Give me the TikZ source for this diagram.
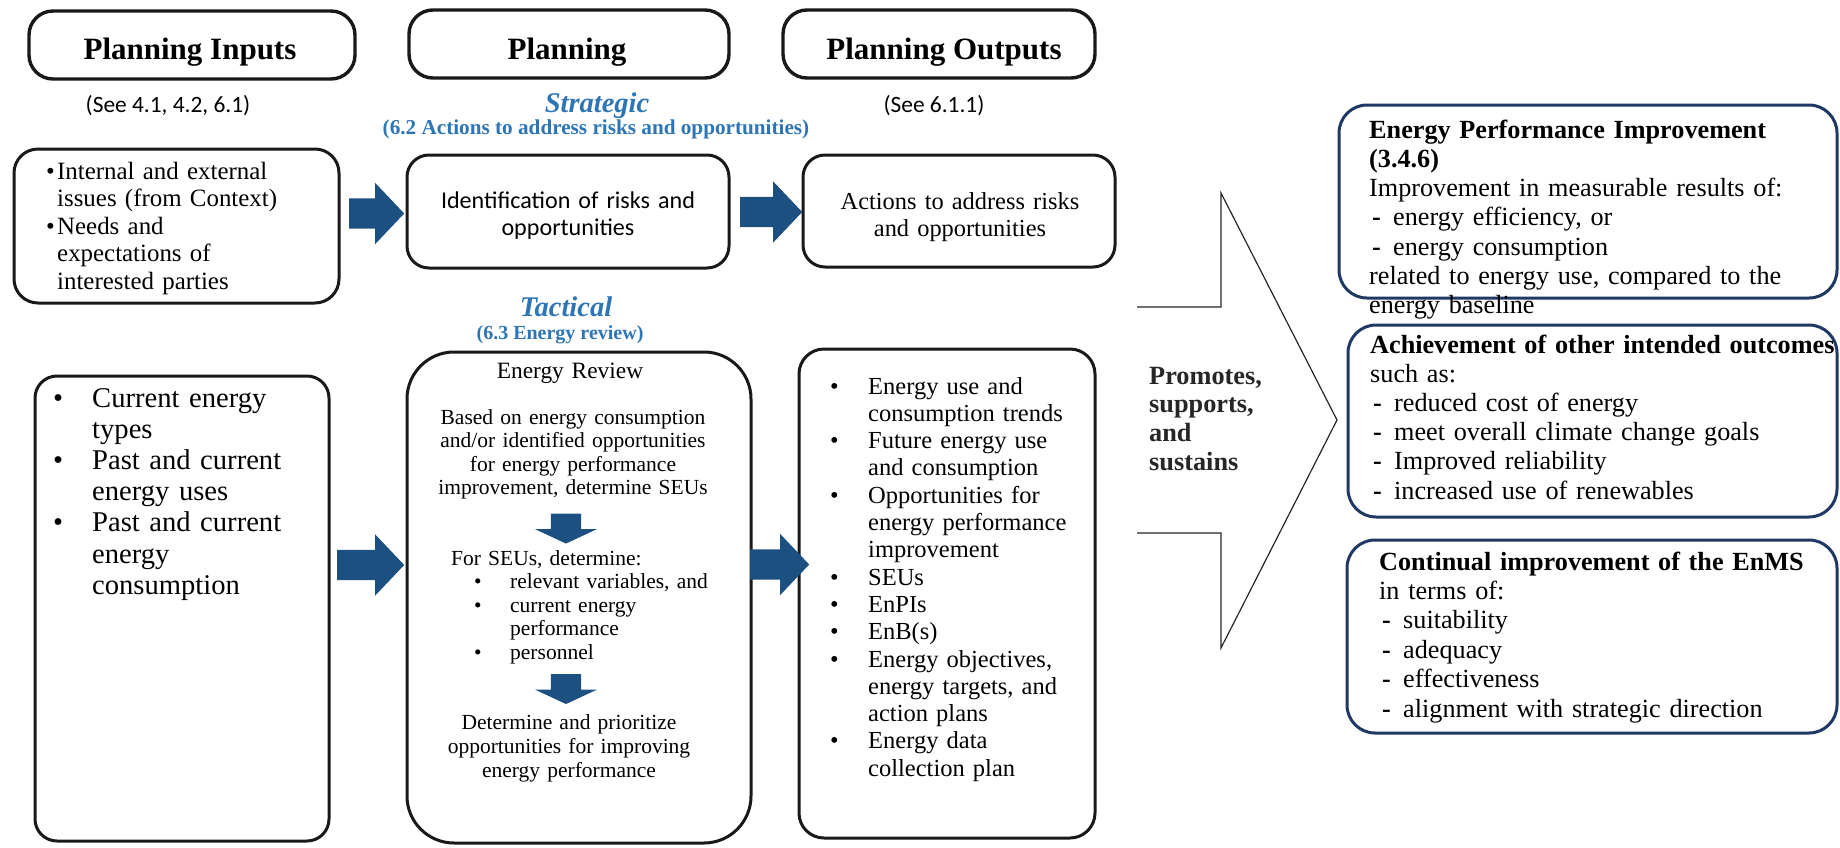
\documentclass[tikz,border=0pt]{standalone}
\usepackage{xcolor}
\usepackage{fontspec}
\setmainfont{Liberation Serif}
\newfontfamily\calfont{Carlito}
\usepackage{tikz}
\usetikzlibrary{shapes.arrows}

\definecolor{arrowblue}{RGB}{28,80,128}
\definecolor{textblue}{RGB}{46,117,182}
\definecolor{navyline}{RGB}{31,56,100}

\newcommand{\itemdot}[1]{\makebox[#1][l]{\textbullet}}
\newcommand{\itemgap}[1]{\hspace*{#1}}
\newcommand{\dashitem}{\hspace*{3pt}\makebox[21pt][l]{\textbf{-}}}

\tikzset{
  hdrbox/.style={draw=black!90, line width=3.4pt, rounded corners=24pt},
  blkbox/.style={draw=black!90, line width=3pt, rounded corners=#1},
  blkbox/.default=22pt,
  navybox/.style={draw=navyline, line width=3pt, rounded corners=28pt},
  hdrtxt/.style={inner sep=0pt, anchor=base, font={\fontsize{31}{36}\selectfont\bfseries}},
  seetxt/.style={inner sep=0pt, anchor=base, font={\calfont\fontsize{23.4}{28}\selectfont}},
  strattxt/.style={inner sep=0pt, anchor=base, text=textblue, font={\fontsize{28.5}{32}\selectfont\bfseries\itshape}},
  subtxt/.style={inner sep=0pt, anchor=base, text=textblue, font={\fontsize{#1}{24}\selectfont\bfseries}},
  listtxt/.style={inner sep=0pt, anchor=base west, align=left, text width=480pt},
  ctrtxt/.style={inner sep=0pt, anchor=base, align=center, text width=400pt},
  blockarrow/.style={single arrow, fill=arrowblue, inner xsep=0pt, inner ysep=15pt,
    single arrow head extend=15.5pt, single arrow tip angle=93},
  downarrow/.style={single arrow, fill=arrowblue, inner xsep=0pt, inner ysep=15pt,
    minimum height=30pt, single arrow head extend=16pt, single arrow tip angle=130, rotate=-90},
  chevline/.style={draw=black!85, line width=1.2pt}
}

\begin{document}
\begin{tikzpicture}[x=1pt,y=-1pt]
\useasboundingbox (0,0) rectangle (1840,847);

% column headers
\node[hdrbox, minimum width=326pt, minimum height=68pt] (hdrIn) at (192,45) {};
\node[hdrbox, minimum width=320pt, minimum height=68pt] (hdrPlan) at (569,44) {};
\node[hdrbox, minimum width=312pt, minimum height=68pt] (hdrOut) at (939,44) {};
\node[hdrtxt] (hdrInTxt) at (190,59) {Planning Inputs};
\node[hdrtxt] (hdrPlanTxt) at (567,59) {Planning};
\node[hdrtxt] (hdrOutTxt) at (944,59) {Planning Outputs};

\node[seetxt] (seeIn) at (168,112) {(See 4.1, 4.2, 6.1)};
\node[strattxt] (strat) at (597,112) {Strategic};
\node[subtxt=21.2] (stratSub) at (596,134) {(6.2 Actions to address risks and opportunities)};
\node[seetxt] (seeOut) at (934,112) {(See 6.1.1)};

% strategic row
\node[blkbox=24pt, minimum width=325pt, minimum height=154pt] (issues) at (176.5,226) {};
\node[blkbox, minimum width=322pt, minimum height=113pt] (ident) at (568,211.5) {};
\node[blkbox, minimum width=312pt, minimum height=112pt] (actions) at (959,211) {};

\node[listtxt, font={\fontsize{24.9}{27.5}\selectfont}] (issuesTxt) at (46,179)
  {\itemdot{11pt}Internal and external\\
   \itemgap{11pt}issues (from Context)\\
   \itemdot{11pt}Needs and\\
   \itemgap{11pt}expectations of\\
   \itemgap{11pt}interested parties};
\node[ctrtxt, font={\calfont\fontsize{24.1}{27}\selectfont}] (identTxt) at (568,208)
  {Identification of risks and\\opportunities};
\node[ctrtxt, font={\fontsize{24.4}{27}\selectfont}] (actionsTxt) at (960,209)
  {Actions to address risks\\and opportunities};

\node[blockarrow, minimum height=55pt] (arIdent) at (369.5,213.5) {};
\node[blockarrow, minimum height=62pt] (arActions) at (764,212) {};

% tactical row
\node[strattxt] (tact) at (566,316) {Tactical};
\node[subtxt=20] (tactSub) at (560,339) {(6.3 Energy review)};

\node[blkbox, minimum width=294pt, minimum height=465pt] (types) at (182,608.5) {};
\node[blkbox=47pt, minimum width=344pt, minimum height=491pt] (review) at (579,597.5) {};
\node[blkbox=25pt, minimum width=296pt, minimum height=489pt] (outputs) at (947,593.5) {};

\node[blockarrow, minimum height=67pt] (arReview) at (363.5,565) {};
\node[blockarrow, minimum height=59pt] (arOutputs) at (772.5,564.5) {};

\node[listtxt, font={\fontsize{28.6}{31.2}\selectfont}] (typesTxt) at (53,407)
  {\itemdot{39pt}Current energy\\
   \itemgap{39pt}types\\
   \itemdot{39pt}Past and current\\
   \itemgap{39pt}energy uses\\
   \itemdot{39pt}Past and current\\
   \itemgap{39pt}energy\\
   \itemgap{39pt}consumption};

\node[ctrtxt, font={\fontsize{23.4}{26}\selectfont}] (reviewTitle) at (570,378) {Energy Review};
\node[ctrtxt, font={\fontsize{21.5}{23.6}\selectfont}] (basedTxt) at (573,424)
  {Based on energy consumption\\
   and/or identified opportunities\\
   for energy performance\\
   improvement, determine SEUs};
\node[downarrow] (arSeu) at (566,525) {};
\node[listtxt, font={\fontsize{21.5}{23.5}\selectfont}] (seuTxt) at (451,565)
  {For SEUs, determine:\\
   \itemgap{23pt}\itemdot{36pt}relevant variables, and\\
   \itemgap{23pt}\itemdot{36pt}current energy\\
   \itemgap{59pt}performance\\
   \itemgap{23pt}\itemdot{36pt}personnel};
\node[downarrow] (arPrio) at (566,685.5) {};
\node[ctrtxt, font={\fontsize{21.5}{24}\selectfont}] (prioTxt) at (569,729)
  {Determine and prioritize\\
   opportunities for improving\\
   energy performance};

\node[listtxt, font={\fontsize{24.5}{27.3}\selectfont}] (outputsTxt) at (830,394)
  {\itemdot{38pt}Energy use and\\
   \itemgap{38pt}consumption trends\\
   \itemdot{38pt}Future energy use\\
   \itemgap{38pt}and consumption\\
   \itemdot{38pt}Opportunities for\\
   \itemgap{38pt}energy performance\\
   \itemgap{38pt}improvement\\
   \itemdot{38pt}SEUs\\
   \itemdot{38pt}EnPIs\\
   \itemdot{38pt}EnB(s)\\
   \itemdot{38pt}Energy objectives,\\
   \itemgap{38pt}energy targets, and\\
   \itemgap{38pt}action plans\\
   \itemdot{38pt}Energy data\\
   \itemgap{38pt}collection plan};

% big open arrow
\draw[chevline] (1137,307) -- (1221,307) -- (1221,193) -- (1337,420)
  -- (1221,648) -- (1221,533) -- (1137,533);
\node[listtxt, text=black!85, font={\fontsize{26.3}{28.7}\selectfont\bfseries}] (promo) at (1149,384)
  {Promotes,\\supports,\\and\\sustains};

% results
\node[navybox, minimum width=498pt, minimum height=193pt] (epi) at (1588,201.5) {};
\node[navybox, minimum width=489pt, minimum height=192pt] (outcomes) at (1592.5,421) {};
\node[navybox, minimum width=490pt, minimum height=193pt] (enms) at (1592,636.5) {};

\node[listtxt, font={\fontsize{26.2}{29.3}\selectfont}] (epiTxt) at (1369,138)
  {\textbf{Energy Performance Improvement}\\
   \textbf{(3.4.6)}\\
   Improvement in measurable results of:\\
   \dashitem energy efficiency, or\\
   \dashitem energy consumption\\
   related to energy use, compared to the\\
   energy baseline};
\node[listtxt, font={\fontsize{26.2}{29.2}\selectfont}] (outcomesTxt) at (1370,353)
  {\textbf{Achievement of other intended outcomes}\\
   such as:\\
   \dashitem reduced cost of energy\\
   \dashitem meet overall climate change goals\\
   \dashitem Improved reliability\\
   \dashitem increased use of renewables};
\node[listtxt, font={\fontsize{26.2}{29.4}\selectfont}] (enmsTxt) at (1379,570)
  {\textbf{Continual improvement of the EnMS}\\
   in terms of:\\
   \dashitem suitability\\
   \dashitem adequacy\\
   \dashitem effectiveness\\
   \dashitem alignment with strategic direction};
\end{tikzpicture}
\end{document}
